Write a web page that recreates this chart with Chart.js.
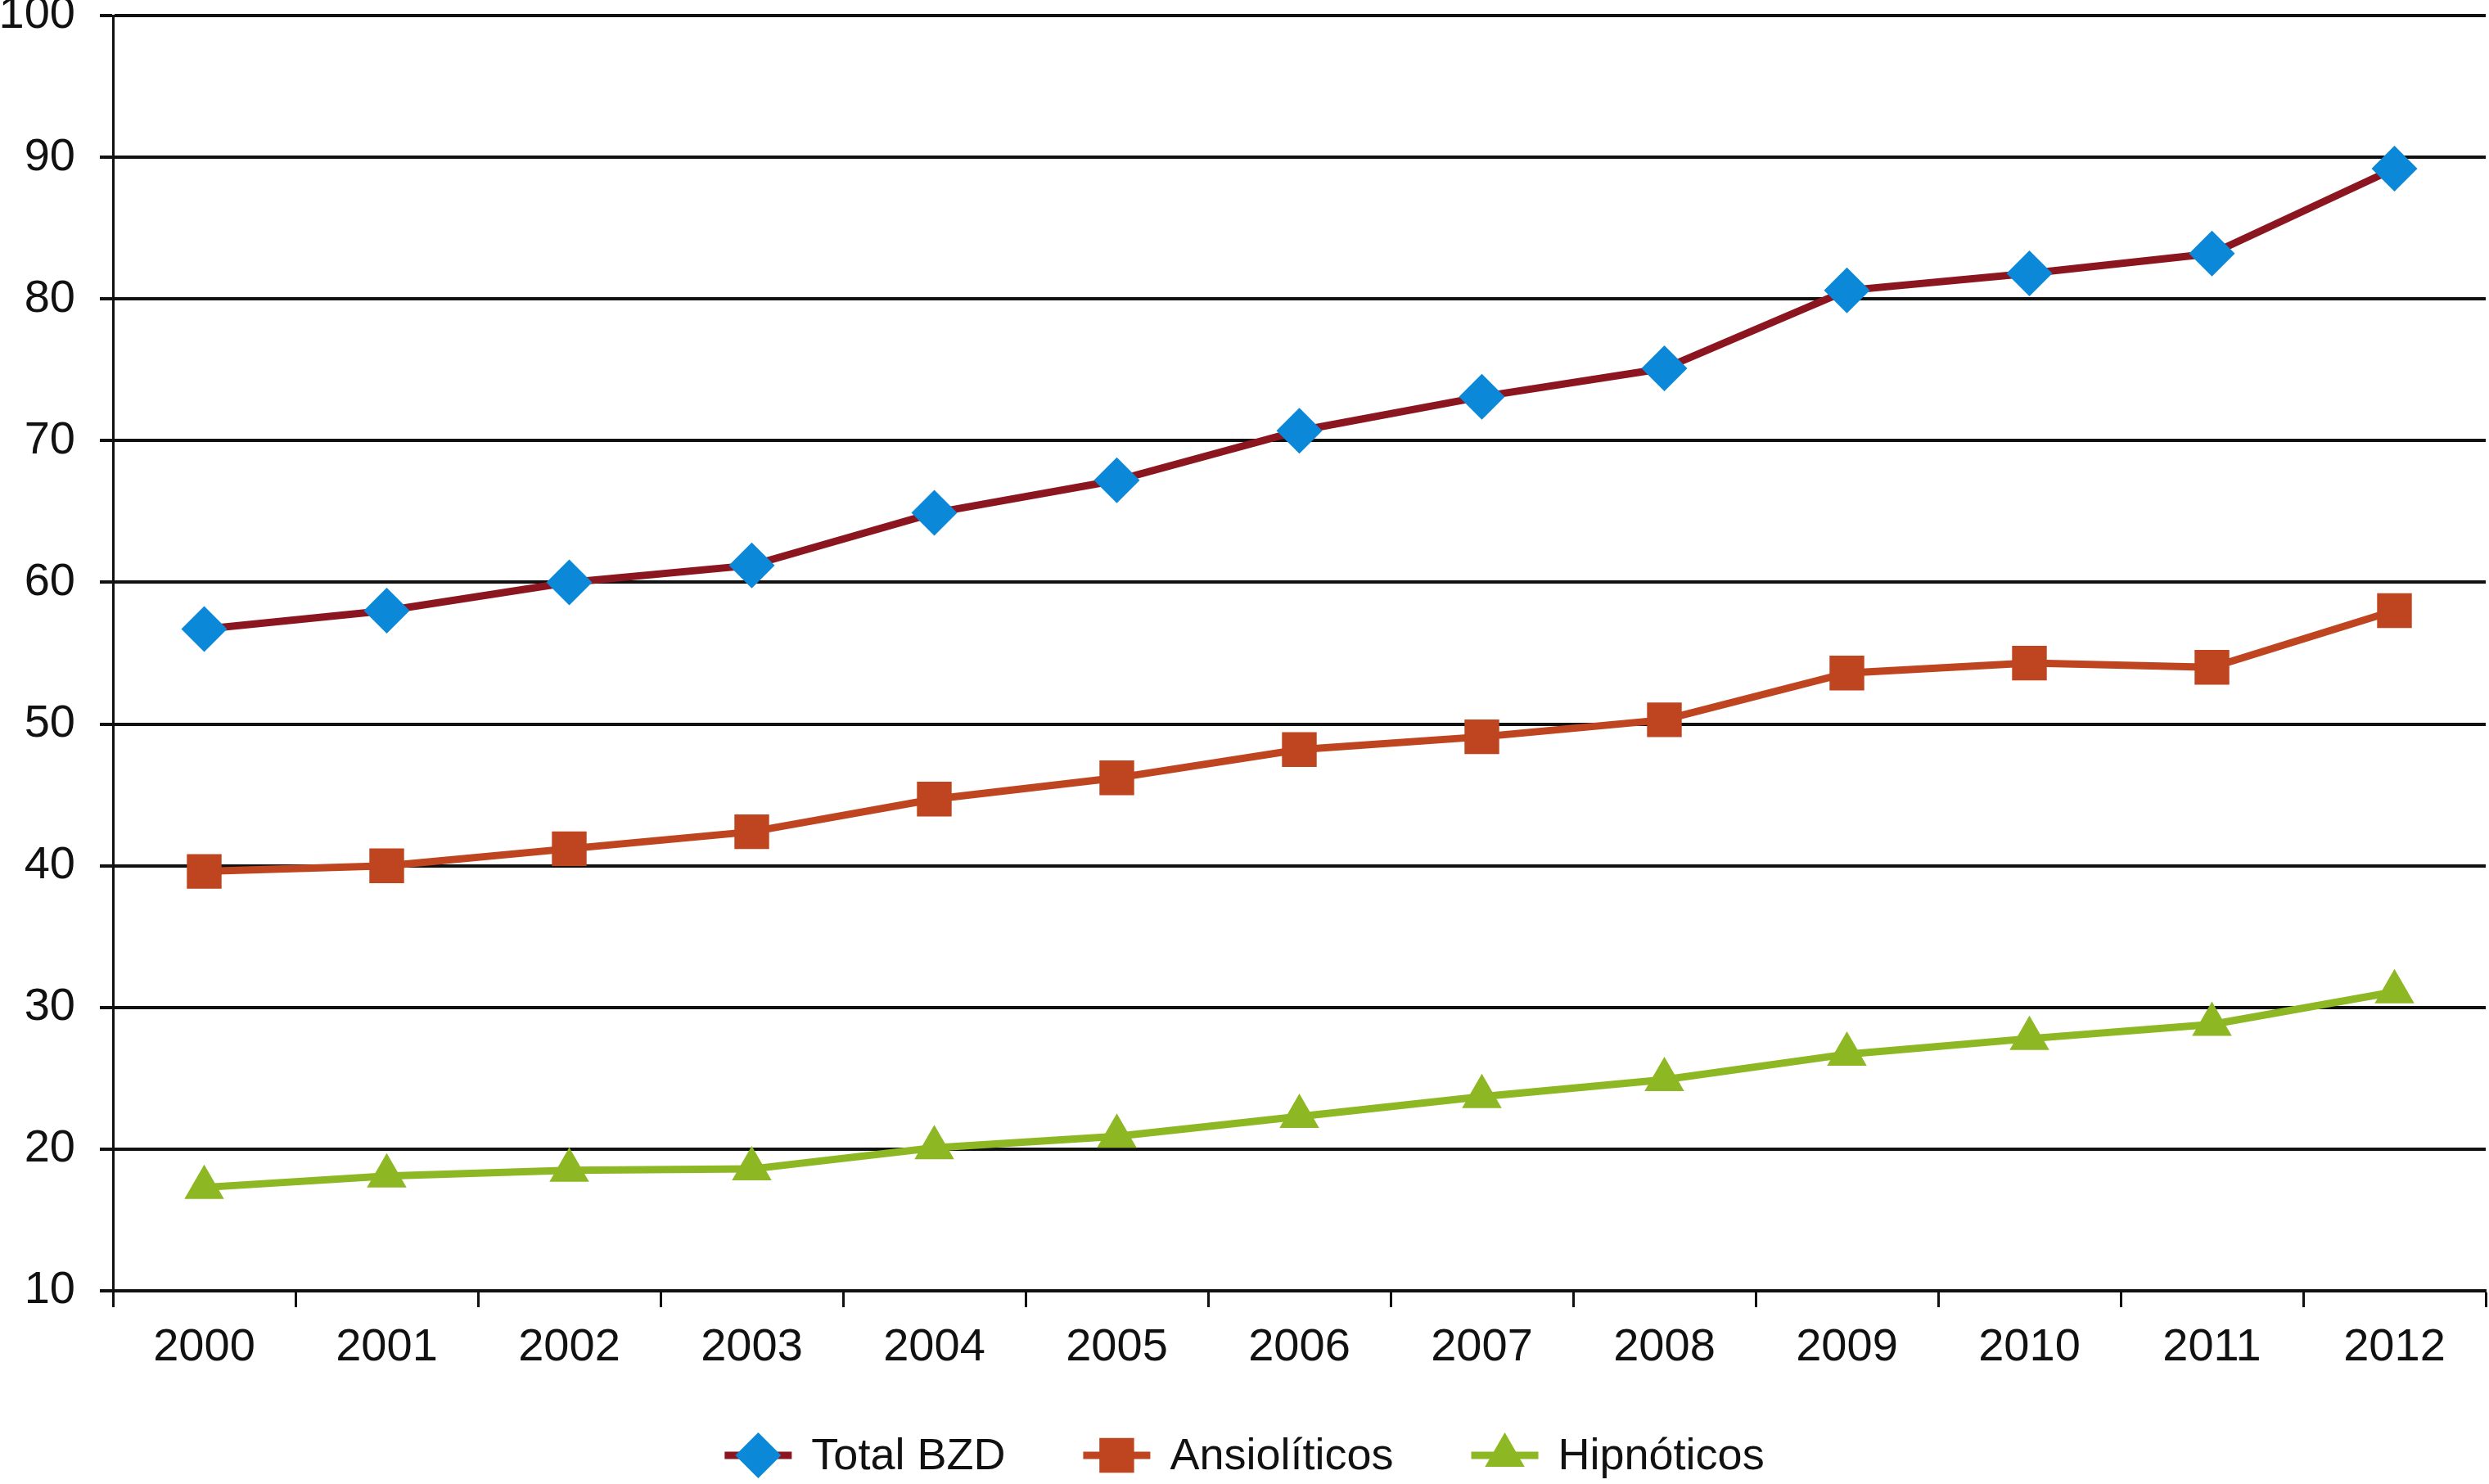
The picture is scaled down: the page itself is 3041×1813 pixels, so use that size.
<!DOCTYPE html>
<html lang="es">
<head>
    <meta charset="UTF-8">
    <title>BZD 2000-2012</title>
    <script src="https://cdn.jsdelivr.net/npm/chart.js"></script>
    <style>
        html, body { margin: 0; padding: 0; background: #fff; }
        #wrap { width: 3041px; height: 1813px; position: relative; }
    </style>
</head>
<body>
    <div id="wrap"><canvas id="bzdChart"></canvas></div>

    <script>
        const years = ['2000', '2001', '2002', '2003', '2004', '2005', '2006', '2007', '2008', '2009', '2010', '2011', '2012'];
        const totalBzd = [56.7, 58.0, 60.0, 61.2, 64.9, 67.2, 70.7, 73.1, 75.1, 80.6, 81.8, 83.2, 89.2];
        const ansioliticos = [39.6, 40.0, 41.2, 42.4, 44.7, 46.2, 48.2, 49.1, 50.3, 53.6, 54.3, 54.0, 58.0];
        const hipnoticos = [17.3, 18.1, 18.5, 18.6, 20.1, 20.9, 22.3, 23.7, 24.9, 26.7, 27.8, 28.8, 31.1];
        const yMin = 10, yMax = 100, yStep = 10;

        const FONT = 'Liberation Sans, Arial, sans-serif';

        // legend drawn by hand so each entry shows line + marker like the original
        const lineLegend = {
            id: 'lineLegend',
            afterDraw(chart) {
                const ctx = chart.ctx;
                const y = 1778;
                const segLen = 82, textGap = 24, itemGap = 95;
                ctx.save();
                ctx.font = '54px ' + FONT;
                const items = chart.data.datasets.map(ds => ({ ds, w: ctx.measureText(ds.label).width }));
                const total = items.reduce((s, it) => s + segLen + textGap + it.w, 0) + itemGap * (items.length - 1);
                let x = (chart.width - total) / 2;
                items.forEach(({ ds, w }) => {
                    ctx.strokeStyle = ds.borderColor;
                    ctx.lineWidth = ds.borderWidth;
                    ctx.beginPath();
                    ctx.moveTo(x, y);
                    ctx.lineTo(x + segLen, y);
                    ctx.stroke();
                    ctx.fillStyle = ds.pointBackgroundColor;
                    ctx.strokeStyle = ds.pointBackgroundColor;
                    Chart.helpers.drawPoint(ctx, {
                        pointStyle: ds.pointStyle,
                        radius: ds.pointRadius,
                        borderWidth: 0,
                        rotation: 0
                    }, x + segLen / 2, y);
                    ctx.fillStyle = '#111';
                    ctx.textBaseline = 'middle';
                    ctx.textAlign = 'left';
                    ctx.fillText(ds.label, x + segLen + textGap, y + 2);
                    x += segLen + textGap + w + itemGap;
                });
                ctx.restore();
            }
        };

        const ctx = document.getElementById('bzdChart').getContext('2d');
        new Chart(ctx, {
            type: 'line',
            data: {
                labels: years,
                datasets: [
                    {
                        label: 'Total BZD',
                        data: totalBzd,
                        borderColor: '#8c1620',
                        borderWidth: 9,
                        pointStyle: 'rectRot',
                        pointRadius: 28,
                        pointBackgroundColor: '#0b88d8',
                        pointBorderWidth: 0
                    },
                    {
                        label: 'Ansiolíticos',
                        data: ansioliticos,
                        borderColor: '#be4520',
                        borderWidth: 9,
                        pointStyle: 'rect',
                        pointRadius: 30,
                        pointBackgroundColor: '#be4520',
                        pointBorderWidth: 0
                    },
                    {
                        label: 'Hipnóticos',
                        data: hipnoticos,
                        borderColor: '#8db824',
                        borderWidth: 9,
                        pointStyle: 'triangle',
                        pointRadius: 28,
                        pointBackgroundColor: '#8db824',
                        pointBorderWidth: 0
                    }
                ]
            },
            options: {
                responsive: true,
                maintainAspectRatio: false,
                devicePixelRatio: 1,
                animation: false,
                layout: { autoPadding: false, padding: { top: 19, right: 4, left: 0, bottom: 0 } },
                scales: {
                    x: {
                        offset: true,
                        grid: {
                            offset: true,
                            drawOnChartArea: false,
                            drawTicks: true,
                            tickLength: 20,
                            tickWidth: 3,
                            tickColor: '#111'
                        },
                        border: { display: true, color: '#111', width: 4 },
                        ticks: {
                            color: '#111',
                            font: { family: FONT, size: 56 },
                            padding: 16,
                            maxRotation: 0,
                            autoSkip: false
                        },
                        afterFit(scale) {
                            scale.height = 1813 - 1577;
                            scale.paddingLeft = 0;
                            scale.paddingRight = 0;
                        }
                    },
                    y: {
                        min: yMin,
                        max: yMax,
                        grid: {
                            color: '#111',
                            lineWidth: 4,
                            tickLength: 16
                        },
                        border: { display: true, color: '#111', width: 3 },
                        ticks: {
                            stepSize: yStep,
                            color: '#111',
                            font: { family: FONT, size: 56 },
                            padding: 30
                        },
                        afterFit(scale) {
                            scale.width = 138;
                            scale.paddingTop = 0;
                            scale.paddingBottom = 0;
                        }
                    }
                },
                plugins: {
                    legend: { display: false },
                    tooltip: { enabled: false }
                }
            },
            plugins: [lineLegend]
        });
    </script>
</body>
</html>
